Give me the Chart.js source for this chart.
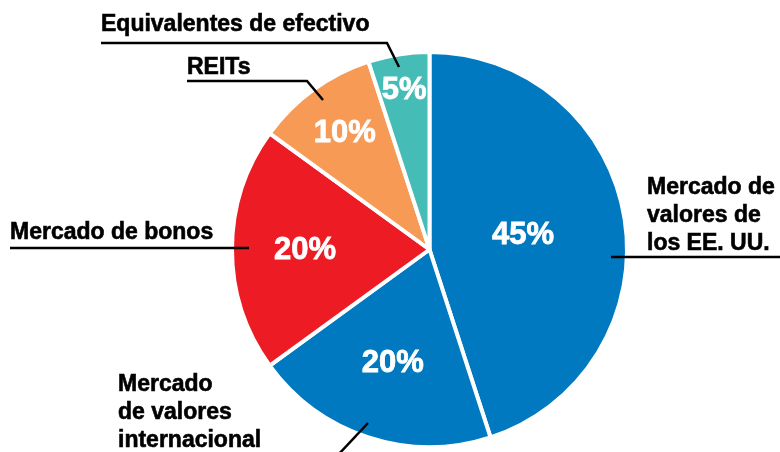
<!DOCTYPE html>
<html>
<head>
<meta charset="utf-8">
<script src="https://cdn.jsdelivr.net/npm/chart.js@4/dist/chart.umd.min.js"></script>
<style>
  html, body { margin: 0; padding: 0; background: #fff; }
  #wrap { width: 780px; height: 452px; position: relative; }
</style>
</head>
<body>
<div id="wrap"><canvas id="pie"></canvas></div>
<script>
// --- Datos ---
const categorias = [
  'Mercado de valores de los EE. UU.',
  'Mercado de valores internacional',
  'Mercado de bonos',
  'REITs',
  'Equivalentes de efectivo'
];
const porcentajes = [45, 20, 20, 10, 5];
const colores = ['#0079c1', '#0079c1', '#ed1c24', '#f79a56', '#45bcb5'];

// Etiquetas externas (líneas de texto por categoría)
const etiquetas = [
  ['Mercado de', 'valores de', 'los EE. UU.'],
  ['Mercado', 'de valores', 'internacional'],
  ['Mercado de bonos'],
  ['REITs'],
  ['Equivalentes de efectivo']
];

// Posición del texto y de la línea guía de cada etiqueta
const layoutEtiquetas = [
  { x: 647, y: 194, lh: 28, linea: [[611, 257], [780, 257]] },
  { x: 118, y: 391, lh: 28, linea: [[368, 423], [338, 455]] },
  { x: 10,  y: 239, lh: 28, linea: [[10, 248], [249, 248]] },
  { x: 187, y: 74,  lh: 28, linea: [[187, 81], [307, 81], [323, 100]] },
  { x: 101, y: 31,  lh: 28, linea: [[101, 43], [387, 43], [399, 67]] }
];
// Distancia relativa al radio para los porcentajes internos
const radioPorcentaje = [0.48, 0.6, 0.63, 0.73, 0.82];

const FUENTE = '"Liberation Sans", Arial, sans-serif';

const etiquetasPlugin = {
  id: 'etiquetas',
  afterDatasetsDraw(chart) {
    const ctx = chart.ctx;
    const arcs = chart.getDatasetMeta(0).data;
    ctx.save();

    // Porcentajes dentro de cada porción
    ctx.fillStyle = '#fff';
    ctx.strokeStyle = '#fff';
    ctx.lineWidth = 0.8;
    ctx.font = 'bold 31px ' + FUENTE;
    ctx.textAlign = 'center';
    ctx.textBaseline = 'middle';
    arcs.forEach((arc, i) => {
      const p = arc.getProps(['x', 'y', 'startAngle', 'endAngle', 'outerRadius'], true);
      const mid = (p.startAngle + p.endAngle) / 2;
      const r = p.outerRadius * radioPorcentaje[i];
      const tx = p.x + Math.cos(mid) * r, ty = p.y + Math.sin(mid) * r + 1;
      ctx.fillText(porcentajes[i] + '%', tx, ty);
      ctx.strokeText(porcentajes[i] + '%', tx, ty);
    });

    // Etiquetas externas y líneas guía
    ctx.fillStyle = '#000';
    ctx.strokeStyle = '#000';
    ctx.font = 'bold 23px ' + FUENTE;
    ctx.textAlign = 'left';
    ctx.textBaseline = 'alphabetic';
    layoutEtiquetas.forEach((l, i) => {
      ctx.lineWidth = 0.6;
      etiquetas[i].forEach((txt, k) => {
        ctx.fillText(txt, l.x, l.y + k * l.lh);
        ctx.strokeText(txt, l.x, l.y + k * l.lh);
      });
      ctx.lineWidth = 2.5;
      ctx.beginPath();
      l.linea.forEach(([x, y], k) => k ? ctx.lineTo(x, y) : ctx.moveTo(x, y));
      ctx.stroke();
    });
    ctx.restore();
  }
};

new Chart(document.getElementById('pie'), {
  type: 'pie',
  data: {
    labels: categorias,
    datasets: [{
      data: porcentajes,
      backgroundColor: colores,
      borderColor: '#fff',
      borderWidth: 4
    }]
  },
  options: {
    responsive: true,
    maintainAspectRatio: false,
    animation: false,
    layout: { padding: { top: 50, bottom: 3, left: 200, right: 121 } },
    plugins: {
      legend: { display: false },
      tooltip: { enabled: false }
    }
  },
  plugins: [etiquetasPlugin]
});
</script>
</body>
</html>
